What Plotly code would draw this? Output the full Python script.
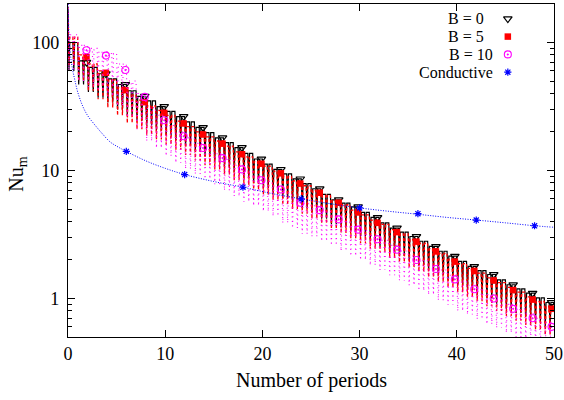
import plotly.graph_objects as go

# ---------------- data ----------------
# oscillating Nu_m : starting value, plateau (peak) and dip (trough) per period k=0..49
start_b0, start_b5, start_b10 = 180, 190, 200

peak_b0 = [100, 72, 64, 57, 52, 47, 42, 38, 35, 31.6, 29, 26.4, 24, 21.7, 19.8,
           18, 16.5, 15.1, 13.6, 12.3, 11.2, 10.2, 9.4, 8.6, 7.9, 7.2, 6.5, 5.9,
           5.55, 5.2, 4.7, 4.3, 3.9, 3.55, 3.3, 3.05, 2.8, 2.55, 2.34, 2.14, 1.95,
           1.78, 1.65, 1.54, 1.4, 1.28, 1.19, 1.10, 1.01, 0.93]
trough_b0 = [60, 47, 41, 37, 34, 30, 27, 24.5, 22.5, 20.5, 18.8, 17.2, 15.6, 14.1,
             12.9, 11.7, 10.7, 9.8, 8.8, 8.0, 7.3, 6.6, 6.1, 5.6, 5.1, 4.7, 4.2, 3.8,
             3.6, 3.4, 3.05, 2.8, 2.55, 2.3, 2.15, 2.0, 1.82, 1.66, 1.52, 1.39, 1.27,
             1.16, 1.07, 1.0, 0.91, 0.83, 0.77, 0.72, 0.66, 0.6]

peak_b5 = [110, 80, 68, 60, 51, 44.5, 39, 35.5, 32, 29.5, 27, 24.3, 22, 20, 18.3,
           17, 15.5, 14, 12.8, 11.8, 10.8, 9.9, 9.0, 8.3, 7.6, 7.0, 6.4, 5.85, 5.4,
           4.9, 4.5, 4.1, 3.8, 3.45, 3.2, 2.9, 2.7, 2.45, 2.25, 2.03, 1.87, 1.72,
           1.58, 1.45, 1.33, 1.22, 1.12, 1.03, 0.95, 0.87]
trough_b5 = [66, 50, 42, 36, 31, 27, 23.5, 21, 19, 17.5, 16, 14.5, 13.2, 12, 11,
             10.2, 9.3, 8.4, 7.7, 7.1, 6.5, 5.9, 5.4, 5.0, 4.6, 4.2, 3.85, 3.5, 3.25,
             2.95, 2.7, 2.45, 2.3, 2.07, 1.92, 1.74, 1.62, 1.47, 1.35, 1.22, 1.12,
             1.03, 0.95, 0.87, 0.8, 0.73, 0.67, 0.62, 0.57, 0.52]

peak_b10 = [115, 95, 90, 85, 82, 68, 50, 40, 31, 27, 22.5, 20, 18, 16.3, 14.8,
            13.5, 12.2, 11, 9.9, 9.0, 8.2, 7.6, 6.7, 6.0, 5.5, 5.3, 4.8, 4.45, 4.0,
            3.7, 3.4, 3.1, 2.85, 2.6, 2.35, 2.15, 1.98, 1.83, 1.67, 1.52, 1.38,
            1.27, 1.17, 1.07, 0.98, 0.9, 0.83, 0.76, 0.7, 0.65]
trough_b10 = [60, 50, 45, 42, 38, 32, 26, 21, 17, 15, 13, 11.5, 10.3, 9.4, 8.6,
              7.8, 7.0, 6.3, 5.7, 5.3, 4.8, 4.4, 3.9, 3.55, 3.2, 3.05, 2.8, 2.6,
              2.35, 2.15, 2.0, 1.82, 1.67, 1.52, 1.38, 1.27, 1.15, 1.07, 0.97, 0.89,
              0.8, 0.75, 0.69, 0.63, 0.59, 0.54, 0.5, 0.47, 0.44, 0.41]

# point markers (every two periods)
marker_x = [1.9, 3.9, 5.9, 7.9, 9.9, 11.9, 13.9, 15.9, 17.9, 19.9, 21.9, 23.9,
            25.9, 27.85, 29.85, 31.85, 33.85, 35.85, 37.85, 39.8, 41.8, 43.8,
            45.8, 47.8, 49.75]
marker_b0 = [70, 57, 47, 38, 31.6, 26.4, 21.7, 18, 15.1, 12.3, 10.2, 8.6, 7.2,
             5.9, 5.2, 4.3, 3.55, 3.05, 2.55, 2.14, 1.78, 1.54, 1.28, 1.10, 0.93]
marker_b5 = [77, 58, 42.4, 34.2, 28.2, 23.3, 19.1, 16.2, 13.4, 11.3, 9.5, 7.9,
             6.7, 5.6, 4.7, 3.9, 3.3, 2.78, 2.33, 1.94, 1.64, 1.38, 1.16, 0.98, 0.83]
marker_b10 = [87, 79, 61, 37.6, 24.7, 18.5, 15.0, 12.5, 10.2, 8.4, 7.1, 5.6, 4.9,
              4.15, 3.45, 2.9, 2.4, 2.0, 1.7, 1.41, 1.18, 1.0, 0.83, 0.70, 0.60]

# conductive solution
cond_x = [0.02, 0.1, 0.2, 0.35, 0.5, 0.7, 1, 1.5, 2, 2.6, 3.5, 4.3, 5, 6, 8, 10,
          12, 15, 18, 21, 24, 27, 30, 33, 36, 39, 42, 45, 48, 50]
cond_y = [200, 115, 88, 70, 60, 51, 41, 32, 27, 23.5, 19.5, 16.8, 15.5, 14.1,
          11.9, 10.4, 9.3, 8.2, 7.4, 6.6, 6.0, 5.5, 5.1, 4.8, 4.55, 4.3, 4.1, 3.9,
          3.7, 3.6]
cond_mx = [6, 12, 18, 24, 30, 36, 42, 48]
cond_my = [14.1, 9.3, 7.4, 6.0, 5.1, 4.6, 4.1, 3.7]

x_ticks = [0, 10, 20, 30, 40, 50]
y_ticks = [1, 10, 100]
labels = ["B = 0", "B = 5", "B = 10", "Conductive"]

# ---------------- figure ----------------
FONT = "Liberation Serif"


def wave(start, peaks, troughs):
    xs, ys = [0.0], [start]
    for k, (p, t) in enumerate(zip(peaks, troughs)):
        for h in (0.0, 0.5):
            base = k + h
            xs += [base + 0.1, base + 0.18, base + 0.5]
            ys += [t, p, p]
    return xs, ys


fig = go.Figure()

sty_b0 = dict(symbol="triangle-down-open", size=7.5, color="black",
              line=dict(width=1.2, color="black"))
sty_b5 = dict(symbol="square", size=6.5, color="#ff0000", line=dict(width=0))
sty_b10 = dict(symbol="circle-open-dot", size=7, color="#ff00ff",
               line=dict(width=1.1, color="#ff00ff"))
sty_c = dict(symbol="asterisk-open", size=6, color="#0000ff",
             line=dict(width=1.2, color="#0000ff"))

series = [
    (start_b0, peak_b0, trough_b0, marker_b0, "black", "solid", 1.2, sty_b0),
    (start_b5, peak_b5, trough_b5, marker_b5, "#ff0000", "3px,2px", 1.3, sty_b5),
    (start_b10, peak_b10, trough_b10, marker_b10, "#ff00ff", "1px,3.5px", 1.1, sty_b10),
]

for start, pk, tr, mk, col, dash, lw, msty in series:
    xs, ys = wave(start, pk, tr)
    fig.add_trace(go.Scatter(x=xs, y=ys, mode="lines",
                             line=dict(color=col, width=lw, dash=dash),
                             hoverinfo="skip"))
    fig.add_trace(go.Scatter(x=marker_x, y=mk, mode="markers", marker=msty))

fig.add_trace(go.Scatter(x=cond_x, y=cond_y, mode="lines", line_shape="spline",
                         line=dict(color="#0000ff", width=1, dash="1px,1.5px")))
fig.add_trace(go.Scatter(x=cond_mx, y=cond_my, mode="markers", marker=sty_c))

# custom legend (gnuplot style: right-aligned text, symbol on the right)
leg_rows = [0.9556, 0.9021, 0.8486, 0.7952]
leg_text_x = [0.860, 0.860, 0.879, 0.879]
leg_styles = [sty_b0, sty_b5, sty_b10, sty_c]
for lab, yy, xx, sty in zip(labels, leg_rows, leg_text_x, leg_styles):
    fig.add_annotation(text=lab, x=xx, y=yy, xref="paper", yref="paper",
                       xanchor="right", yanchor="middle", showarrow=False,
                       font=dict(family=FONT, size=16, color="black"))
    fig.add_trace(go.Scatter(x=[0.905], y=[yy], xaxis="x2", yaxis="y2",
                             mode="markers", marker=sty, hoverinfo="skip"))

axis_common = dict(showline=True, linecolor="black", linewidth=1.3, mirror="allticks",
                   ticks="inside", ticklen=7, tickwidth=1, tickcolor="black",
                   showgrid=False, zeroline=False, automargin=False,
                   tickfont=dict(family=FONT, size=18, color="black"))

fig.update_layout(
    width=564, height=400,
    margin=dict(l=68, r=10, t=4, b=63),
    plot_bgcolor="white", paper_bgcolor="white",
    showlegend=False,
    xaxis=dict(range=[0, 50], tickvals=x_ticks, ticklabelstandoff=0, **axis_common),
    yaxis=dict(type="log", range=[-0.301, 2.301], tickvals=y_ticks,
               ticktext=[str(v) for v in y_ticks], ticklabelstandoff=4,
               minor=dict(ticks="inside", ticklen=4, tickcolor="black", dtick="D1",
                          showgrid=False),
               **axis_common),
    xaxis2=dict(overlaying="x", range=[0, 1], visible=False),
    yaxis2=dict(overlaying="y", range=[0, 1], visible=False),
)

fig.add_annotation(text="Number of periods", x=0.5, y=-0.132, xref="paper", yref="paper",
                   xanchor="center", yanchor="middle", showarrow=False,
                   font=dict(family=FONT, size=20, color="black"))
fig.add_annotation(text="Nu<sub>m</sub>", x=-0.103, y=0.49, xref="paper", yref="paper",
                   xanchor="center", yanchor="middle", showarrow=False, textangle=-90,
                   font=dict(family=FONT, size=20, color="black"))

fig.write_html("out.html", config={"displayModeBar": False},
               post_script="document.body.style.margin='0px';")
